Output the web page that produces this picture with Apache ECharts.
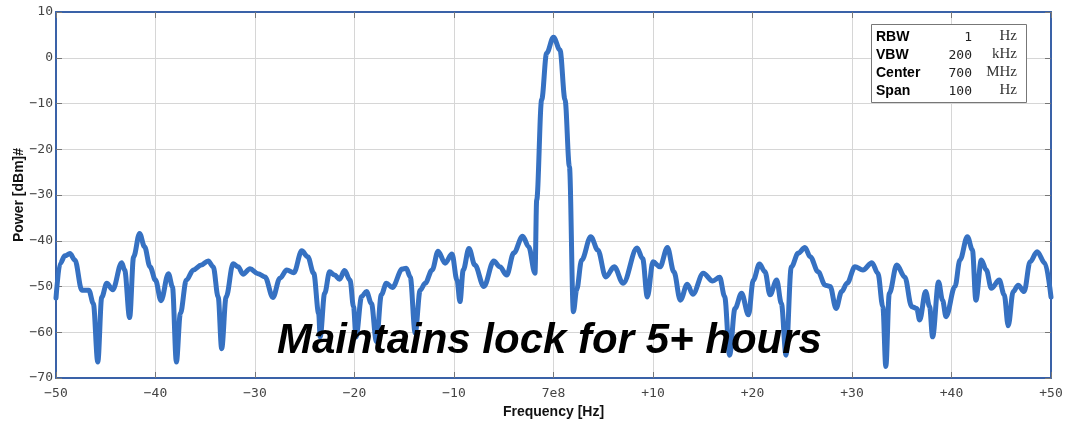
<!DOCTYPE html>
<html>
<head>
<meta charset="utf-8">
<script src="https://cdn.jsdelivr.net/npm/echarts@6/dist/echarts.min.js"></script>
<style>
  html, body { margin: 0; padding: 0; background: #fff; }
  #chart { width: 1068px; height: 426px; }
</style>
</head>
<body>
<div id="chart"></div>
<script>
var freqs = [
  -50, -49.6, -49.1, -48.6, -48.1, -47.4, -46.7, -46.25, -45.8, -45.4,
  -44.9, -44.3, -43.4, -43.1, -42.6, -42.2, -41.6, -41.1, -40.55, -40,
  -39.45, -38.7, -38.3, -37.9, -37.5, -36.9, -36.2, -35.4, -34.7, -34.2,
  -33.7, -33.35, -32.9, -32.2, -31.7, -31.2, -30.5, -29.7, -29.0, -28.2,
  -27.5, -26.8, -26.1, -25.3, -24.7, -24.1, -23.6, -23.45, -23.0, -22.5,
  -22.0, -21.5, -21.0, -20.45, -20.1, -19.85, -19.28, -18.8, -18.3, -17.8,
  -17.3, -16.8, -16.2, -15.2, -14.8, -14.4, -13.9, -13.4, -12.9, -12.2,
  -11.6, -10.9, -10.2, -9.7, -9.4, -9.07, -8.5, -7.9, -7.0, -6.0,
  -5.4, -4.7, -4.0, -3.1, -2.5, -1.86, -1.69, -1.19, -0.69, 0,
  0.65, 1.16, 1.6, 2.0, 2.33, 2.83, 3.75, 4.45, 5.25, 6.1,
  7.0, 8.4, 8.96, 9.43, 10.0, 10.7, 11.45, 12.1, 12.75, 13.45,
  14.0, 15.05, 16.0, 16.7, 17.2, 17.7, 18.24, 18.9, 19.6, 20.08,
  20.7, 21.26, 21.76, 22.43, 22.9, 23.37, 23.9, 24.6, 25.27, 25.8,
  26.6, 27.3, 27.8, 28.4, 28.96, 29.5, 30.3, 31.1, 32.0, 32.6,
  33.1, 33.4, 33.75, 34.5, 35.3, 36.0, 36.5, 36.8, 37.4, 37.8,
  38.1, 38.7, 39.1, 39.45, 40.35, 40.85, 41.6, 42.1, 42.45, 43.0,
  43.5, 44.0, 44.8, 45.3, 45.7, 46.2, 46.7, 47.3, 47.9, 48.6,
  49.4, 50
];
var power = [
  -52.5, -45, -43.3, -42.8, -44.2, -50.8, -50.8, -53.7, -66.5, -52.3,
  -49.3, -50.7, -44.8, -46.4, -56.8, -43.5, -38.4, -41.3, -45.7, -48.6,
  -53.1, -47.2, -50, -66.5, -55.9, -48.6, -46.4, -45.3, -44.4, -45.7,
  -52.3, -63.6, -52.3, -45, -45.7, -47.3, -46.1, -47.2, -47.9, -52.4,
  -48.2, -46.4, -47, -42.2, -43.5, -47.1, -55.9, -61, -51.5, -46.8,
  -47.5, -48.4, -46.5, -48.6, -54.4, -61, -52.2, -51.1, -53.7, -62,
  -51.8, -49.3, -50.2, -46.2, -46, -47.9, -60.2, -50.8, -49.3, -46.4,
  -42.3, -44.9, -42.9, -48.6, -53.3, -46.4, -41.7, -45.3, -50, -44.4,
  -45.7, -47.5, -42.7, -39, -41.3, -47.1, -31.1, -9.2, 1, 4.5,
  1.7, -9.2, -23.8, -55.5, -50.7, -44.2, -39.1, -42, -47.9, -45.7,
  -49.3, -41.6, -43.9, -52.3, -44.6, -45.7, -41.5, -46.8, -53, -49.5,
  -51.7, -47.1, -48.8, -48, -52.2, -65, -54.8, -51.5, -56.2, -48.6,
  -45.1, -46.8, -51.8, -48.6, -53.7, -65, -45.7, -42.7, -41.5, -43.5,
  -46.8, -49.7, -50, -54.8, -51.1, -49.3, -45.7, -46.4, -44.8, -47.1,
  -54.4, -67.5, -51.5, -45.3, -47.9, -54.4, -54.8, -57.3, -51.1, -54.4,
  -61, -49, -53, -56.6, -50, -44.2, -39.1, -42, -53, -44.2,
  -46.4, -50.4, -48.6, -51.8, -58.6, -51.1, -49.7, -51.1, -44.6, -42.4,
  -44.9, -52.3
];

// analyzer settings box
var settingNames = ["RBW", "VBW", "Center", "Span"];
var settingValues = ["1", "200", "700", "100"];
var settingUnits = ["Hz", "kHz", "MHz", "Hz"];

var frameColor = "#3a62a8";
var lineColor = "#3671c2";
var monoFont = "DejaVu Sans Mono";

function fmtX(v) {
  if (v === 0) return "7e8";
  return v > 0 ? "+" + v : "\u2212" + Math.abs(v);
}
function fmtY(v) {
  return v < 0 ? "\u2212" + Math.abs(v) : String(v);
}

var myChart = echarts.init(document.getElementById("chart"));

var boxItems = [
  {
    type: "rect", z: 100,
    shape: { x: 871.5, y: 24.5, width: 155, height: 78 },
    style: { fill: "#fff", stroke: "#777", lineWidth: 1 }
  }
];
settingNames.forEach(function (name, i) {
  var y = 37 + i * 18;
  boxItems.push({
    type: "text", x: 876, y: y, z: 101,
    style: { text: name, font: "bold 14px 'Liberation Sans'", fill: "#000",
      align: "left", verticalAlign: "middle" }
  });
  boxItems.push({
    type: "text", x: 972, y: y + 1, z: 101,
    style: { text: settingValues[i], font: "13px 'DejaVu Sans Mono'", fill: "#222",
      align: "right", verticalAlign: "middle" }
  });
  boxItems.push({
    type: "text", x: 1017, y: y - 1, z: 101,
    style: { text: settingUnits[i], font: "15px 'Liberation Serif'", fill: "#333",
      align: "right", verticalAlign: "middle" }
  });
});

var edge = { show: true, onZero: false, lineStyle: { color: frameColor, width: 2 } };
var tick = { inside: true, length: 6, lineStyle: { color: "#777" } };

var option = {
  animation: false,
  grid: { left: 56, right: 17, top: 12, bottom: 48, outerBoundsMode: "none" },
  xAxis: [
    {
      type: "value", min: -50, max: 50, interval: 10,
      name: "Frequency [Hz]", nameLocation: "middle", nameGap: 27,
      nameTextStyle: { fontFamily: "Liberation Sans", fontWeight: "bold", fontSize: 14, color: "#111" },
      axisLine: edge, axisTick: tick,
      axisLabel: { formatter: fmtX, fontFamily: monoFont, fontSize: 13, color: "#444", margin: 9 },
      splitLine: { lineStyle: { color: "#d6d6d6", width: 1 } }
    },
    {
      type: "value", position: "top", min: -50, max: 50, interval: 10,
      axisLine: edge, axisTick: tick,
      axisLabel: { show: false }, splitLine: { show: false }
    }
  ],
  yAxis: [
    {
      type: "value", min: -70, max: 10, interval: 10,
      name: "Power [dBm]#", nameLocation: "middle", nameGap: 30, nameMoveOverlap: false,
      nameTextStyle: { fontFamily: "Liberation Sans", fontWeight: "bold", fontSize: 14, color: "#111" },
      axisLine: edge, axisTick: tick,
      axisLabel: { formatter: fmtY, fontFamily: monoFont, fontSize: 13, color: "#444", margin: 3 },
      splitLine: { lineStyle: { color: "#d6d6d6", width: 1 } }
    },
    {
      type: "value", position: "right", min: -70, max: 10, interval: 10,
      axisLine: edge, axisTick: tick,
      axisLabel: { show: false }, splitLine: { show: false }
    }
  ],
  series: [
    {
      type: "line",
      data: freqs.map(function (f, i) { return [f, power[i]]; }),
      showSymbol: false,
      smooth: 0.35,
      smoothMonotone: "x",
      clip: true,
      lineStyle: { color: lineColor, width: 5, join: "round", cap: "round" }
    }
  ],
  graphic: [
    {
      type: "text", left: 277, top: 320, z: 100,
      style: {
        text: "Maintains lock for 5+ hours",
        fontFamily: "Liberation Sans", fontWeight: "bold", fontStyle: "italic",
        fontSize: 42, fill: "#000"
      }
    }
  ].concat(boxItems)
};

myChart.setOption(option);
</script>
</body>
</html>
